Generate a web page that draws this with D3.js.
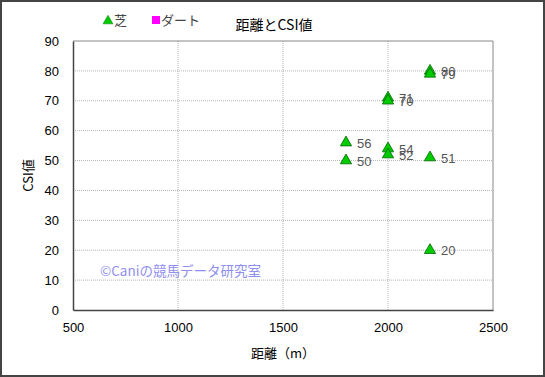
<!DOCTYPE html>
<html>
<head>
<meta charset="utf-8">
<script src="https://cdn.jsdelivr.net/npm/d3@7"></script>
<style>
  body { margin: 0; background: #fff; }
  svg { font-family: "Noto Sans CJK JP", "DejaVu Sans", sans-serif; }
</style>
</head>
<body>
<svg id="chart" width="545" height="377"></svg>
<script>
// 芝 series: distance (m) and CSI value
const distances = [1800, 1800, 2000, 2000, 2000, 2000, 2200, 2200, 2200, 2200];
const csiValues = [56, 50, 71, 70, 54, 52, 80, 79, 51, 20];
const xTicks = [500, 1000, 1500, 2000, 2500];
const yTicks = [0, 10, 20, 30, 40, 50, 60, 70, 80, 90];

const svg = d3.select("#chart");
const width = +svg.attr("width");
const height = +svg.attr("height");

// outer frame
svg.append("rect")
    .attr("x", 1).attr("y", 1)
    .attr("width", width - 2).attr("height", height - 2)
    .attr("fill", "#fff")
    .attr("stroke", "#444")
    .attr("stroke-width", 2);

const margin = { left: 73, right: 52, top: 41, bottom: 67 };
const x = d3.scaleLinear().domain([500, 2500]).range([margin.left, width - margin.right]);
const y = d3.scaleLinear().domain([0, 90]).range([height - margin.bottom, margin.top]);

const g = svg.append("g");

// gridlines
g.selectAll(".vgrid")
    .data(xTicks.slice(1, -1))
    .enter().append("line")
    .attr("x1", d => x(d)).attr("x2", d => x(d))
    .attr("y1", y(90)).attr("y2", y(0))
    .attr("stroke", "#b4b4b4")
    .attr("stroke-dasharray", "1,1");

g.selectAll(".hgrid")
    .data(yTicks.slice(1, -1))
    .enter().append("line")
    .attr("x1", x(500)).attr("x2", x(2500))
    .attr("y1", d => y(d)).attr("y2", d => y(d))
    .attr("stroke", "#b4b4b4")
    .attr("stroke-dasharray", "1,1");

// plot border
g.append("line").attr("x1", x(500)).attr("x2", x(2500)).attr("y1", y(90)).attr("y2", y(90))
    .attr("stroke", "#888");
g.append("line").attr("x1", x(2500)).attr("x2", x(2500)).attr("y1", y(90)).attr("y2", y(0))
    .attr("stroke", "#888");

// axes
const xAxis = d3.axisBottom(x).tickValues(xTicks).tickSize(0).tickPadding(10).tickFormat(d3.format("d"));
const yAxis = d3.axisLeft(y).tickValues(yTicks).tickSize(0).tickPadding(14);

const gx = svg.append("g").attr("transform", `translate(0,${y(0)})`).call(xAxis);
const gy = svg.append("g").attr("transform", `translate(${x(500)},0)`).call(yAxis);
[gx, gy].forEach(a => {
    a.select(".domain").attr("stroke", "#444").attr("stroke-width", 1.5);
    a.selectAll("text")
        .attr("font-size", 13)
        .attr("fill", "#000")
        .attr("font-family", "Liberation Sans, Arial, sans-serif");
});
gx.selectAll("text").attr("dy", "0.9em");

// axis titles
svg.append("text")
    .attr("x", x(1500)).attr("y", 358)
    .attr("text-anchor", "middle")
    .attr("font-size", 13)
    .text("距離（m）");

svg.append("text")
    .attr("transform", `translate(33,${y(45)}) rotate(-90)`)
    .attr("text-anchor", "middle")
    .attr("font-size", 13)
    .text("CSI値");

// title
svg.append("text")
    .attr("x", 274).attr("y", 30)
    .attr("text-anchor", "middle")
    .attr("font-size", 14)
    .text("距離とCSI値");

// legend
const tri = d3.symbol().type(d3.symbolTriangle).size(42);
svg.append("path")
    .attr("d", tri())
    .attr("transform", "translate(108,21)")
    .attr("fill", "#00cc00")
    .attr("stroke", "#007700")
    .attr("stroke-width", 0.5);
svg.append("text").attr("x", 114).attr("y", 25).attr("font-size", 13).attr("fill", "#444").text("芝");
svg.append("rect").attr("x", 152).attr("y", 16).attr("width", 8).attr("height", 8).attr("fill", "#ff00ff");
svg.append("text").attr("x", 161).attr("y", 25).attr("font-size", 13).attr("fill", "#444").text("ダート");

// watermark
svg.append("text")
    .attr("x", 100).attr("y", 276)
    .attr("font-size", 13.5)
    .attr("fill", "#8f8ff0")
    .text("©Caniの競馬データ研究室");

// points
const points = distances.map((d, i) => ({ dist: d, csi: csiValues[i] }));
const marker = d3.symbol().type(d3.symbolTriangle).size(55);

g.selectAll(".pt")
    .data(points)
    .enter().append("path")
    .attr("class", "pt")
    .attr("d", marker)
    .attr("transform", d => `translate(${x(d.dist)},${y(d.csi)})`)
    .attr("fill", "#00cc00")
    .attr("stroke", "#006600")
    .attr("stroke-width", 0.8);

g.selectAll(".lbl")
    .data(points)
    .enter().append("text")
    .attr("class", "lbl")
    .attr("x", d => x(d.dist) + 11)
    .attr("y", d => y(d.csi) + 5)
    .attr("font-size", 13)
    .attr("fill", "#555")
    .attr("font-family", "Liberation Sans, Arial, sans-serif")
    .text(d => d.csi);
</script>
</body>
</html>
